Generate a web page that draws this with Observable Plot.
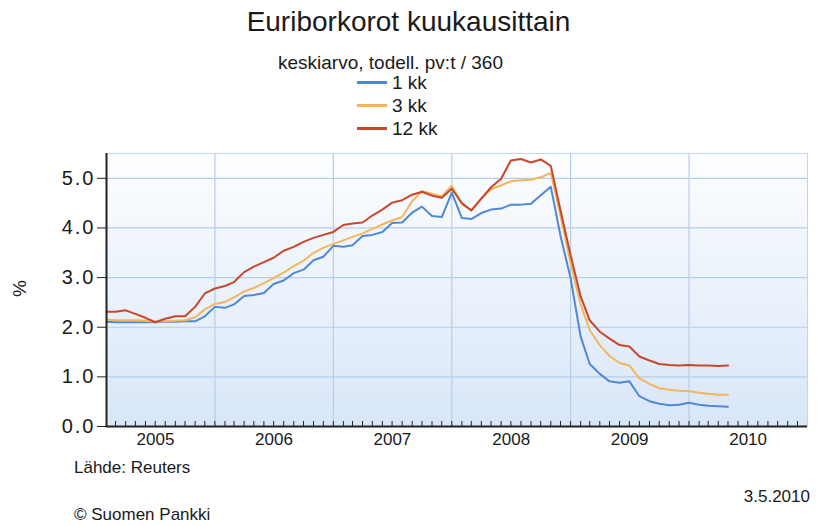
<!DOCTYPE html>
<html><head><meta charset="utf-8">
<script src="https://cdn.jsdelivr.net/npm/d3@7"></script>
<script src="https://cdn.jsdelivr.net/npm/@observablehq/plot@0.6"></script>
<style>
body{margin:0;background:#fff;font-family:"Liberation Sans",Arial,sans-serif;}
#wrap{position:relative;width:817px;height:526px;overflow:hidden;}
#wrap svg{position:absolute;left:0;top:0;}
.t{position:absolute;white-space:nowrap;color:#1a1a1a;line-height:1;}
.leg{position:absolute;left:357px;display:flex;align-items:center;font-size:19px;color:#1a1a1a;line-height:1;}
.leg span.sw{display:inline-block;width:30px;height:3px;margin-right:5px;}
g[aria-label="y-axis tick label"] text{letter-spacing:2px;}
</style></head><body><div id="wrap"></div>
<script>
const seriesNames = ["1 kk", "3 kk", "12 kk"];
const seriesColors = ["#5088d4", "#f2b75c", "#c8472c"];
const firstMonth = [2005, 1]; // tammikuu 2005
// Monthly averages, Jan 2005 - Apr 2010
const kk1 = [
  2.11, 2.10, 2.10, 2.10, 2.10, 2.10, 2.11, 2.11, 2.12, 2.12, 2.22, 2.41,
  2.39, 2.46, 2.63, 2.65, 2.69, 2.87, 2.94, 3.09, 3.16, 3.35, 3.42, 3.64,
  3.62, 3.65, 3.84, 3.86, 3.92, 4.10, 4.11, 4.31, 4.43, 4.24, 4.22, 4.71,
  4.20, 4.18, 4.30, 4.37, 4.39, 4.47, 4.47, 4.49, 4.66, 4.83, 3.84, 2.99,
  1.81, 1.26, 1.06, 0.91, 0.88, 0.91, 0.61, 0.51, 0.46, 0.43, 0.44, 0.48,
  0.44, 0.42, 0.41, 0.40
];
const kk3 = [
  2.15, 2.14, 2.14, 2.14, 2.13, 2.11, 2.12, 2.13, 2.14, 2.20, 2.36, 2.47,
  2.51, 2.60, 2.72, 2.79, 2.89, 2.99, 3.10, 3.23, 3.34, 3.50, 3.60, 3.68,
  3.75, 3.82, 3.89, 3.98, 4.07, 4.15, 4.22, 4.54, 4.74, 4.69, 4.64, 4.85,
  4.48, 4.36, 4.60, 4.78, 4.86, 4.94, 4.96, 4.97, 5.02, 5.11, 4.24, 3.29,
  2.46, 1.94, 1.64, 1.42, 1.28, 1.23, 0.97, 0.86, 0.77, 0.74, 0.72, 0.71,
  0.68, 0.66, 0.64, 0.64
];
const kk12 = [
  2.31, 2.31, 2.34, 2.27, 2.19, 2.10, 2.17, 2.22, 2.22, 2.41, 2.68, 2.78,
  2.83, 2.91, 3.11, 3.22, 3.31, 3.40, 3.54, 3.62, 3.72, 3.80, 3.86, 3.92,
  4.06, 4.09, 4.11, 4.25, 4.37, 4.51, 4.56, 4.67, 4.73, 4.65, 4.61, 4.79,
  4.50, 4.35, 4.59, 4.82, 4.99, 5.36, 5.39, 5.32, 5.38, 5.25, 4.35, 3.45,
  2.62, 2.14, 1.91, 1.77, 1.64, 1.61, 1.41, 1.33, 1.26, 1.24, 1.23, 1.24,
  1.23, 1.23, 1.22, 1.23
];
const yTicks = [0, 1, 2, 3, 4, 5];
const yearLabels = [2005, 2006, 2007, 2008, 2009, 2010];
const gridYears = [2006, 2007, 2008, 2009, 2010];

// month-end position (start of following month)
const monthDate = (i) => new Date(Date.UTC(firstMonth[0], firstMonth[1] - 1 + i + 1, 1));
const seriesData = [kk1, kk3, kk12];
const rows = [];
seriesData.forEach((arr, s) => arr.forEach((v, i) => rows.push({date: monthDate(i), value: v, series: seriesNames[s]})));

const xStart = monthDate(0);
const xEnd = new Date(Date.UTC(yearLabels[yearLabels.length - 1] + 1, 0, 1));
const monthTicks = d3.utcMonth.range(xStart, xEnd);
const yearStarts = gridYears.map(y => new Date(Date.UTC(y, 0, 1)));
const midYears = yearLabels.map(y => new Date(Date.UTC(y, 6, 2)));
const gridColor = "#b7cdec";

const chart = Plot.plot({
  width: 817, height: 526,
  marginLeft: 106, marginRight: 10, marginTop: 153, marginBottom: 100,
  style: {fontFamily: "'Liberation Sans', Arial, sans-serif", color: "#1a1a1a", background: "transparent"},
  x: {type: "utc", domain: [xStart, xEnd], axis: null},
  y: {domain: [0, 5.5], axis: null},
  color: {domain: seriesNames, range: seriesColors},
  marks: [
    Plot.frame({fill: "url(#bgGrad)", stroke: "#c3d5ee"}),
    Plot.ruleY(yTicks, {stroke: gridColor, strokeWidth: 1.2}),
    Plot.ruleX(yearStarts, {stroke: gridColor, strokeWidth: 1.2}),
    Plot.line(rows, {x: "date", y: "value", z: "series", stroke: "series", strokeWidth: 2, strokeLinejoin: "round"}),
    Plot.ruleX(monthTicks, {y1: 0, y2: 0, insetTop: -5, stroke: "#222", strokeWidth: 1}),
    Plot.ruleY([yTicks[0]], {stroke: "#222", strokeWidth: 2}),
    Plot.ruleX([xStart], {stroke: "#222", strokeWidth: 2}),
    Plot.axisY({ticks: yTicks, tickFormat: d => d.toFixed(1), tickSize: 9, tickPadding: 2, fontSize: 20, label: null, stroke: "#222"}),
    Plot.axisX({ticks: midYears, tickSize: 0, tickPadding: 6, tickFormat: d => String(d.getUTCFullYear()), fontSize: 17, label: null})
  ]
});

const svg = d3.select(chart);
const defs = svg.insert("defs", ":first-child");
const grad = defs.append("linearGradient").attr("id", "bgGrad").attr("x1", 0).attr("y1", 0).attr("x2", 0).attr("y2", 1);
grad.append("stop").attr("offset", "0%").attr("stop-color", "#fdfeff");
grad.append("stop").attr("offset", "100%").attr("stop-color", "#d8e6f8");

const wrap = document.getElementById("wrap");
wrap.appendChild(chart);

function addText(txt, css) {
  const d = document.createElement("div");
  d.className = "t";
  d.textContent = txt;
  Object.assign(d.style, css);
  wrap.appendChild(d);
  return d;
}
addText("Euriborkorot kuukausittain", {left: "0", width: "817px", textAlign: "center", top: "8px", fontSize: "28px"});
addText("keskiarvo, todell. pv:t / 360", {left: "278px", top: "53px", fontSize: "19px"});
seriesNames.forEach((n, i) => {
  const d = document.createElement("div");
  d.className = "leg";
  d.style.top = (73 + i * 23) + "px";
  d.innerHTML = `<span class="sw" style="background:${seriesColors[i]}"></span><span>${n}</span>`;
  wrap.appendChild(d);
});
addText("%", {left: "11px", top: "279px", fontSize: "19px", transform: "rotate(-90deg)"});
addText("Lähde: Reuters", {left: "74px", top: "459px", fontSize: "17px"});
addText("3.5.2010", {right: "7px", top: "488px", fontSize: "17px"});
addText("© Suomen Pankki", {left: "74px", top: "505px", fontSize: "17px", lineHeight: "1.2"});
</script></body></html>
